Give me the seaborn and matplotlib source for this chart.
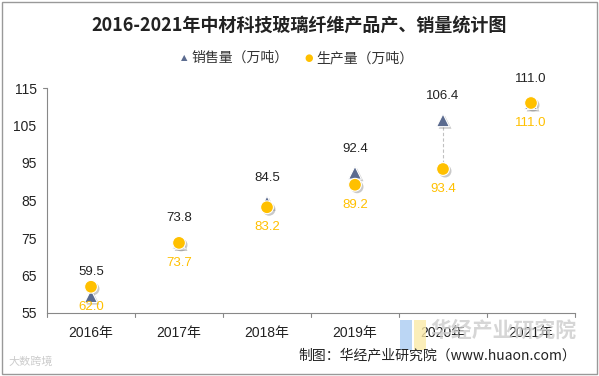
import numpy as np
import pandas as pd
import seaborn as sns
import matplotlib.pyplot as plt
import matplotlib.patheffects as pe
from matplotlib.patches import Rectangle

years = ['2016年', '2017年', '2018年', '2019年', '2020年', '2021年']
sales = [59.5, 73.8, 84.5, 92.4, 106.4, 111.0]
production = [62.0, 73.7, 83.2, 89.2, 93.4, 111.0]
yticks = [55, 65, 75, 85, 95, 105, 115]

sales_name = '销售量（万吨）'
prod_name = '生产量（万吨）'
sales_color = '#5b6b8f'
prod_color = '#ffc000'

sns.set_style("white")
plt.rcParams['font.family'] = ['Liberation Sans', 'Noto Sans CJK SC', 'DejaVu Sans']

df = pd.DataFrame({'year': years * 2,
                   'value': sales + production,
                   'series': [sales_name] * 6 + [prod_name] * 6})

fig = plt.figure(figsize=(5.99, 3.76), dpi=100)
ax = fig.add_axes([47 / 599, 1 - 313 / 376, 528 / 599, 225 / 376])

shadow = [pe.SimplePatchShadow(offset=(1.5, -1.5), shadow_rgbFace='#666666', alpha=0.35), pe.Normal()]

# high-low lines
ax.vlines(np.arange(len(years)), production, sales, colors='#c0c0c0',
          linestyles=(0, (3, 2)), linewidth=0.8, zorder=1)

sns.scatterplot(data=df, x='year', y='value', hue='series', style='series',
                markers={sales_name: '^', prod_name: 'o'},
                palette={sales_name: sales_color, prod_name: prod_color},
                s=85, edgecolor='white', linewidth=0.8, legend=False, ax=ax, zorder=3)
for coll in ax.collections[1:]:
    coll.set_path_effects(shadow)

for i, (s, p) in enumerate(zip(sales, production)):
    ax.annotate(f'{s:.1f}', (i, s), xytext=(0, 13), textcoords='offset points',
                ha='center', va='bottom', fontsize=9.5, color='#222222')
    ax.annotate(f'{p:.1f}', (i, p), xytext=(0, -10), textcoords='offset points',
                ha='center', va='top', fontsize=9.5, color=prod_color)

ax.set_xlim(-0.5, 5.5)
ax.set_ylim(55, 115)
ax.set_yticks(yticks)
ax.set_xlabel('')
ax.set_ylabel('')
for side in ['top', 'right']:
    ax.spines[side].set_visible(False)
ax.spines['left'].set_color('#888888')
ax.spines['bottom'].set_color('#888888')
ax.tick_params(axis='y', labelsize=10, left=False, pad=4, colors='#222222')
ax.tick_params(axis='x', labelsize=10, bottom=False, pad=6, colors='#222222')
ax.set_xticks(np.arange(len(years)))
ax.set_xticklabels(years)
for b in np.arange(-0.5, 6, 1.0):
    ax.plot([b, b], [0, -0.018], transform=ax.get_xaxis_transform(), color='#888888',
            linewidth=0.8, clip_on=False)
ax.plot([0, -0.008], [1, 1], transform=ax.transAxes, color='#888888', linewidth=0.8, clip_on=False)

fig.text(0.5, 1 - 25 / 376, '2016-2021年中材科技玻璃纤维产品产、销量统计图', ha='center', va='center',
         fontsize=13, fontweight='bold', family=['Noto Sans CJK SC'], color='#222222')

fig.text(184 / 599, 1 - 58 / 376, '▲', ha='center', va='center', fontsize=6, color=sales_color,
         family=['DejaVu Sans'])
fig.text(191 / 599, 1 - 58 / 376, sales_name, ha='left', va='center', fontsize=10,
         family=['Noto Sans CJK SC'], color='#333333')
fig.text(309 / 599, 1 - 58 / 376, '●', ha='center', va='center', fontsize=7, color=prod_color,
         family=['DejaVu Sans'])
fig.text(316 / 599, 1 - 58 / 376, prod_name, ha='left', va='center', fontsize=10,
         family=['Noto Sans CJK SC'], color='#333333')

# watermarks
fig.text(576 / 599, 1 - 330 / 376, '华经产业研究院', ha='right', va='center', fontsize=15,
         fontweight='bold', family=['Noto Sans CJK SC'], color='#cccccc', alpha=0.8, zorder=0)
fig.patches.append(Rectangle((400 / 599, 1 - 350 / 376), 12 / 599, 30 / 376, transform=fig.transFigure,
                             facecolor='#aaccf2', edgecolor='none', alpha=0.8, zorder=0))
fig.patches.append(Rectangle((414 / 599, 1 - 350 / 376), 12 / 599, 30 / 376, transform=fig.transFigure,
                             facecolor='#fbeaa8', edgecolor='none', alpha=0.8, zorder=0))
fig.text(576 / 599, 1 - 355 / 376, '制图：华经产业研究院（www.huaon.com）', ha='right', va='center',
         fontsize=10, family=['Noto Sans CJK SC'], color='#222222')
fig.text(8 / 599, 1 - 362 / 376, '大数跨境', ha='left', va='center', fontsize=8,
         family=['Noto Sans CJK SC'], color='#cccccc')

fig.patches.append(Rectangle((0.003, 0.004), 0.993, 0.992, transform=fig.transFigure,
                             facecolor='none', edgecolor='#999999', linewidth=1.0))

fig.savefig('out.png', dpi=100)
